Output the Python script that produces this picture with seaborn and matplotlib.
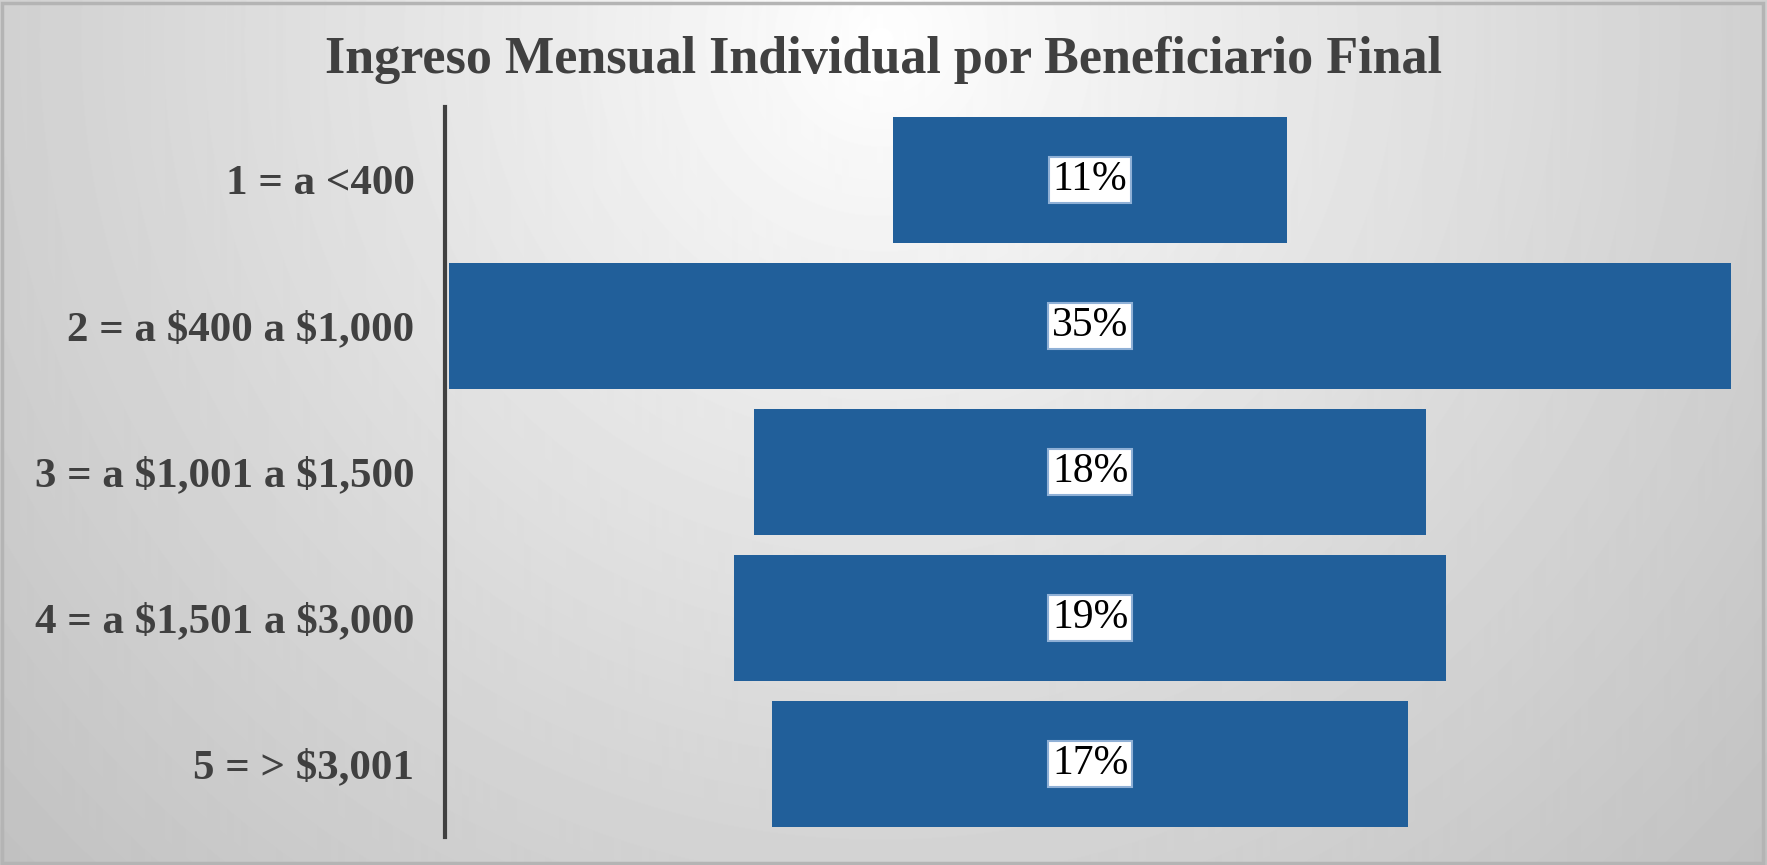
import numpy as np
import pandas as pd
import matplotlib.pyplot as plt
import seaborn as sns
from matplotlib.patches import Rectangle

# Data
categories = ['1 = a <400', '2 = a $400 a $1,000', '3 = a $1,001 a $1,500',
              '4 = a $1,501 a $3,000', '5 = > $3,001']
percent = [10.7, 34.9, 18.3, 19.4, 17.3]

df = pd.DataFrame({'Rango': categories, 'Porcentaje': percent})

sns.set_theme(style='white')
plt.rcParams['font.family'] = ['Liberation Serif', 'DejaVu Serif']
plt.rcParams['text.parse_math'] = False

W, H = 1767, 865
fig = plt.figure(figsize=(W / 100, H / 100), dpi=100)

# radial grey background, lightest near top centre
bg = fig.add_axes([0, 0, 1, 1], zorder=-10)
yy, xx = np.mgrid[0:H, 0:W]
r = np.sqrt((xx - 880) ** 2 + (yy - 40) ** 2) / 1206
shade = (255 - 62 * np.clip(r, 0, 1) ** 0.9) / 255
bg.imshow(shade, cmap='gray', vmin=0, vmax=1, aspect='auto',
          extent=[0, 1, 0, 1], origin='upper')
bg.axis('off')
fig.patches.append(Rectangle((0.001, 0.002), 0.997, 0.995, transform=fig.transFigure,
                             fill=False, edgecolor='#b4b4b4', linewidth=2.5))

ax = fig.add_axes([445 / W, 1 - 837 / H, 1290 / W, 730 / H])
ax.set_facecolor('none')
sns.barplot(data=df, x='Porcentaje', y='Rango', orient='h', color='#215F9A',
            saturation=1, width=0.86, linewidth=0, ax=ax)

# centre each bar around zero (funnel layout)
for p in ax.patches:
    w = p.get_width()
    p.set_x(-w / 2)

half = 17.55
ax.set_xlim(-half, half)
ax.set_xlabel('')
ax.set_ylabel('')
ax.set_xticks([])
ax.tick_params(axis='y', length=0, pad=22)
for lab in ax.get_yticklabels():
    lab.set_fontsize(31)
    lab.set_fontweight('bold')
    lab.set_color('#404040')

for s in ['top', 'right', 'bottom']:
    ax.spines[s].set_visible(False)
ax.spines['left'].set_color('#404040')
ax.spines['left'].set_linewidth(3)

for i, v in enumerate(percent):
    ax.text(0, i, f'{v:.0f}%', ha='center', va='center', fontsize=30,
            color='black',
            bbox=dict(boxstyle='square,pad=0.1', facecolor='white',
                      edgecolor='#8fb0d6', linewidth=1.5))

fig.text(0.5, 1 - 60 / H, 'Ingreso Mensual Individual por Beneficiario Final',
         ha='center', va='center', fontsize=37.5, fontweight='bold', color='#404040')

fig.savefig('out.png', dpi=100)
